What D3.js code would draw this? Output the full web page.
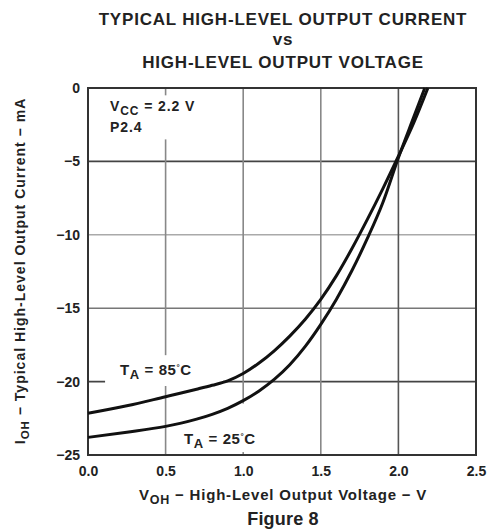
<!DOCTYPE html>
<html>
<head>
<meta charset="utf-8">
<script src="https://cdn.jsdelivr.net/npm/d3@7"></script>
<style>
  html, body { margin: 0; padding: 0; background: #fff; }
  svg { display: block; }
  text { font-family: "Liberation Sans", Arial, sans-serif; fill: #222; }
</style>
</head>
<body>
<script>
// Output voltage (V) vs. typical high-level output current (mA)
const voltage85 = [0, 0.25, 0.5, 0.6, 0.7, 0.8, 0.9, 1.0, 1.1, 1.2, 1.3, 1.4, 1.5, 1.6, 1.7, 1.8, 1.9, 2.0, 2.1, 2.19];
const current85 = [-22.16, -21.65, -21.03, -20.78, -20.52, -20.25, -19.95, -19.45, -18.75, -17.9, -16.9, -15.75, -14.4, -12.8, -10.95, -8.95, -6.85, -4.65, -2.35, 0];
const voltage25 = [0, 0.25, 0.5, 0.6, 0.7, 0.8, 0.9, 1.0, 1.1, 1.2, 1.3, 1.4, 1.5, 1.6, 1.7, 1.8, 1.9, 2.0, 2.1, 2.17];
const current25 = [-23.8, -23.45, -23.05, -22.83, -22.56, -22.23, -21.82, -21.3, -20.65, -19.85, -18.85, -17.6, -16.1, -14.4, -12.45, -10.25, -7.8, -4.75, -1.95, 0];

const xTicks = [0, 0.5, 1.0, 1.5, 2.0, 2.5];
const yTicks = [0, -5, -10, -15, -20, -25];

const W = 489, H = 530;
const plotL = 88, plotR = 476, plotT = 88, plotB = 455;

const svg = d3.select("body").append("svg").attr("width", W).attr("height", H);

const x = d3.scaleLinear().domain([0, 2.5]).range([plotL, plotR]);
const y = d3.scaleLinear().domain([-25, 0]).range([plotB, plotT]);

// Title
const title = svg.append("g").attr("font-weight", "bold").attr("font-size", 17)
  .attr("letter-spacing", 0.8).attr("text-anchor", "middle");
[["TYPICAL HIGH-LEVEL OUTPUT CURRENT", 25], ["vs", 45], ["HIGH-LEVEL OUTPUT VOLTAGE", 68]].forEach(([t, by]) => {
  title.append("text").attr("x", 283).attr("y", by).text(t);
});

// Grid lines
const gridColor = { "-5": "#444", "-10": "#aaa", "-15": "#777", "-20": "#444" };
svg.append("g").selectAll("line").data(yTicks.filter(d => d !== 0 && d !== -25)).join("line")
  .attr("x1", plotL).attr("x2", plotR).attr("y1", d => y(d)).attr("y2", d => y(d))
  .attr("stroke", d => gridColor[d]).attr("stroke-width", 1.6);
svg.append("g").selectAll("line").data(xTicks.filter(d => d !== 0 && d !== 2.5)).join("line")
  .attr("x1", d => x(d)).attr("x2", d => x(d)).attr("y1", plotT).attr("y2", plotB)
  .attr("stroke", d => d === 2.0 ? "#555" : "#888").attr("stroke-width", 1.6);

// White backgrounds behind in-plot labels
const masks = [
  [x(0.07), y(-0.5), x(0.82), y(-3.5)],
  [x(0.11), y(-18.2), x(0.87), y(-20.3)],
  [x(0.55), y(-21.5), x(1.14), y(-24.8)]
];
svg.append("g").selectAll("rect").data(masks).join("rect")
  .attr("x", d => d[0]).attr("y", d => d[1]).attr("width", d => d[2] - d[0]).attr("height", d => d[3] - d[1])
  .attr("fill", "#fff");

// Frame
svg.append("rect").attr("x", plotL).attr("y", plotT).attr("width", plotR - plotL).attr("height", plotB - plotT)
  .attr("fill", "none").attr("stroke", "#333").attr("stroke-width", 2);

// Curves
const line = d3.line().x(d => x(d[0])).y(d => y(d[1])).curve(d3.curveMonotoneX);
[[voltage85, current85], [voltage25, current25]].forEach(([vs, cs]) => {
  svg.append("path").datum(vs.map((v, i) => [v, cs[i]])).attr("d", line)
    .attr("fill", "none").attr("stroke", "#111").attr("stroke-width", 3);
});

// Axes
const xAxis = d3.axisBottom(x).tickValues(xTicks).tickFormat(d3.format(".1f")).tickSize(0).tickPadding(11);
const gx = svg.append("g").attr("transform", `translate(0,${plotB})`).call(xAxis);
const yAxis = d3.axisLeft(y).tickValues(yTicks).tickFormat(d => d === 0 ? "0" : "\u2212" + Math.abs(d)).tickSize(0).tickPadding(8);
const gy = svg.append("g").attr("transform", `translate(${plotL},0)`).call(yAxis);
[gx, gy].forEach(g => {
  g.select(".domain").remove();
  g.selectAll("text").attr("font-size", 14).attr("font-weight", "bold")
    .attr("font-family", "Liberation Sans, Arial, sans-serif").attr("fill", "#3a3a3a");
});

// Axis titles
const xt = svg.append("text").attr("x", 283).attr("y", 500).attr("text-anchor", "middle")
  .attr("font-size", 15).attr("font-weight", "bold").attr("letter-spacing", 0.8);
xt.append("tspan").text("V");
xt.append("tspan").attr("font-size", 12.5).attr("dy", 4).text("OH");
xt.append("tspan").attr("dy", -4).text(" \u2212 High-Level Output Voltage \u2212 V");

const yt = svg.append("text").attr("transform", "translate(25,271) rotate(-90)").attr("text-anchor", "middle")
  .attr("font-size", 14).attr("font-weight", "bold").attr("letter-spacing", 1.0);
yt.append("tspan").text("I");
yt.append("tspan").attr("font-size", 11.5).attr("dy", 4).text("OH");
yt.append("tspan").attr("dy", -4).text(" \u2212 Typical High-Level Output Current \u2212 mA");

svg.append("text").attr("x", 283).attr("y", 525).attr("text-anchor", "middle")
  .attr("font-size", 18).attr("font-weight", "bold").attr("letter-spacing", 0.2).text("Figure 8");

// In-plot annotations
const vcc = svg.append("text").attr("x", 110).attr("y", 111).attr("font-size", 14)
  .attr("font-weight", "bold").attr("letter-spacing", 0.9);
vcc.append("tspan").text("V");
vcc.append("tspan").attr("font-size", 12).attr("dy", 4).text("CC");
vcc.append("tspan").attr("dy", -4).text(" = 2.2 V");
svg.append("text").attr("x", 110).attr("y", 131.5).attr("font-size", 14).attr("font-weight", "bold")
  .attr("letter-spacing", 0.9).text("P2.4");

function tempLabel(px, py, t) {
  const g = svg.append("text").attr("x", px).attr("y", py).attr("font-size", 15)
    .attr("font-weight", "bold").attr("letter-spacing", 0.6);
  g.append("tspan").text("T");
  g.append("tspan").attr("font-size", 13).attr("dy", 4).text("A");
  g.append("tspan").attr("dy", -4).text(" = " + t);
  g.append("tspan").attr("font-size", 8).attr("dy", -5).text("\u00b0");
  g.append("tspan").attr("dy", 5).text("C");
}
tempLabel(120, 375, "85");
tempLabel(184, 444, "25");
</script>
</body>
</html>
